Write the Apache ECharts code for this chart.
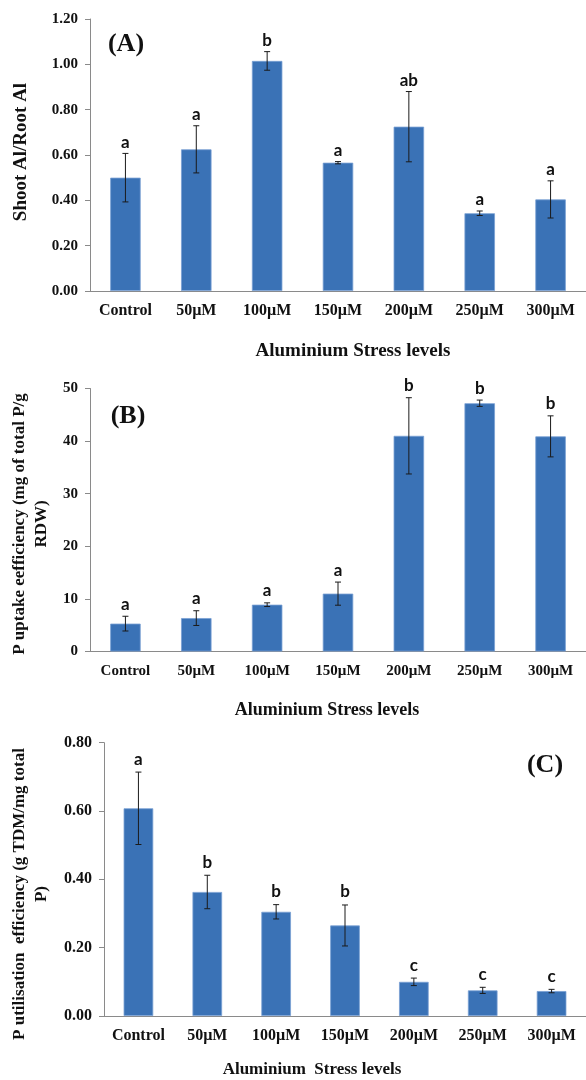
<!DOCTYPE html>
<html>
<head>
<meta charset="utf-8">
<script src="https://cdn.jsdelivr.net/npm/echarts@6/dist/echarts.min.js"></script>
<style>
  html, body { margin: 0; padding: 0; background: #ffffff; }
  #chart { width: 586px; height: 1080px; }
</style>
</head>
<body>
<div id="chart"></div>
<script>
// Aluminium stress treatments (x categories shared by all three panels)
const categories = ['Control', '50µM', '100µM', '150µM', '200µM', '250µM', '300µM'];

// (A) Shoot Al / Root Al ratio, mean ± SE, with significance groups
const shootRootAl = [0.50, 0.625, 1.015, 0.566, 0.725, 0.343, 0.404];
const shootRootAlErr = [0.107, 0.104, 0.041, 0.005, 0.155, 0.010, 0.082];
const shootRootAlGroups = ['a', 'a', 'b', 'a', 'ab', 'a', 'a'];

// (B) P uptake efficiency (mg of total P / g RDW)
const pUptake = [5.3, 6.35, 8.9, 11.0, 41.0, 47.2, 40.9];
const pUptakeErr = [1.4, 1.4, 0.35, 2.2, 7.25, 0.6, 3.9];
const pUptakeGroups = ['a', 'a', 'a', 'a', 'b', 'b', 'b'];

// (C) P utilisation efficiency (g TDM / mg total P)
const pUtil = [0.608, 0.363, 0.305, 0.265, 0.100, 0.075, 0.073];
const pUtilErr = [0.106, 0.049, 0.021, 0.060, 0.011, 0.009, 0.005];
const pUtilGroups = ['a', 'b', 'b', 'b', 'c', 'c', 'c'];

const SERIF = '"Liberation Serif", "Times New Roman", serif';
const SANS = 'Lato, "Open Sans", sans-serif';
const AXIS_GREY = '#8a8a8a';
const BAR_BLUE = '#3a72b6';

const chart = echarts.init(document.getElementById('chart'), null, { renderer: 'canvas' });

function xAxisFor(gridIndex, fontSize) {
  return {
    type: 'category',
    gridIndex: gridIndex,
    data: categories,
    axisLine: { lineStyle: { color: AXIS_GREY, width: 1 } },
    axisTick: { show: false },
    axisLabel: {
      interval: 0,
      hideOverlap: false,
      margin: 12,
      color: '#111',
      fontFamily: SERIF,
      fontWeight: 'bold',
      fontSize: fontSize
    }
  };
}

function yAxisFor(gridIndex, max, interval, digits, fontSize) {
  return {
    type: 'value',
    gridIndex: gridIndex,
    min: 0,
    max: max,
    interval: interval,
    axisLine: { show: true, lineStyle: { color: AXIS_GREY, width: 1 } },
    axisTick: { show: true, length: 5, lineStyle: { color: AXIS_GREY } },
    splitLine: { show: false },
    axisLabel: {
      margin: 12,
      color: '#111',
      fontFamily: SERIF,
      fontWeight: 'bold',
      fontSize: fontSize,
      formatter: function (v) { return v.toFixed(digits); }
    }
  };
}

function barSeries(axisIndex, values) {
  return {
    type: 'bar',
    xAxisIndex: axisIndex,
    yAxisIndex: axisIndex,
    data: values,
    barWidth: '43%',
    itemStyle: { color: BAR_BLUE, borderColor: '#79a0d3', borderWidth: 0.8 },
    silent: true
  };
}

// Error bars with caps, plus the significance letter above each bar
function errorSeries(axisIndex, values, errs, groups, lift) {
  return {
    type: 'custom',
    xAxisIndex: axisIndex,
    yAxisIndex: axisIndex,
    data: values.map(function (v, i) { return [i, v - errs[i], v + errs[i]]; }),
    encode: { x: 0, y: [1, 2] },
    z: 5,
    silent: true,
    renderItem: function (params, api) {
      const i = api.value(0);
      const lo = api.coord([i, api.value(1)]);
      const hi = api.coord([i, api.value(2)]);
      const cap = 3;
      const stroke = { stroke: '#1a1a1a', lineWidth: 1 };
      return {
        type: 'group',
        children: [
          { type: 'line', shape: { x1: lo[0], y1: lo[1], x2: hi[0], y2: hi[1] }, style: stroke },
          { type: 'line', shape: { x1: hi[0] - cap, y1: hi[1], x2: hi[0] + cap, y2: hi[1] }, style: stroke },
          { type: 'line', shape: { x1: lo[0] - cap, y1: lo[1], x2: lo[0] + cap, y2: lo[1] }, style: stroke },
          {
            type: 'text',
            x: hi[0],
            y: hi[1] - lift,
            style: {
              text: groups[params.dataIndex],
              font: 'bold 17px ' + SANS,
              fill: '#111',
              textAlign: 'center',
              textVerticalAlign: 'middle'
            }
          }
        ]
      };
    }
  };
}

function label(text, x, y, size, rotate) {
  return {
    type: 'text',
    x: x,
    y: y,
    rotation: rotate ? Math.PI / 2 : 0,
    silent: true,
    style: {
      text: text,
      font: 'bold ' + size + 'px ' + SERIF,
      fill: '#111',
      textAlign: 'center',
      textVerticalAlign: 'middle',
      lineHeight: 22
    }
  };
}

const option = {
  animation: false,
  backgroundColor: '#ffffff',
  grid: [
    { left: 90, top: 19, width: 502, height: 272 },
    { left: 90, top: 388.5, width: 502, height: 263 },
    { left: 104, top: 742.7, width: 490, height: 273.3 }
  ],
  xAxis: [xAxisFor(0, 16), xAxisFor(1, 15), xAxisFor(2, 16)],
  yAxis: [
    yAxisFor(0, 1.2, 0.2, 2, 15),
    yAxisFor(1, 50, 10, 0, 15),
    yAxisFor(2, 0.8, 0.2, 2, 16)
  ],
  series: [
    barSeries(0, shootRootAl),
    errorSeries(0, shootRootAl, shootRootAlErr, shootRootAlGroups, 11),
    barSeries(1, pUptake),
    errorSeries(1, pUptake, pUptakeErr, pUptakeGroups, 12),
    barSeries(2, pUtil),
    errorSeries(2, pUtil, pUtilErr, pUtilGroups, 13)
  ],
  graphic: [
    // panel tags
    label('(A)', 126, 44, 26, false),
    label('(B)', 128, 416, 26, false),
    label('(C)', 545, 765, 26, false),
    // axis titles
    label('Shoot Al/Root Al', 21, 152, 19, true),
    label('Aluminium Stress levels', 353, 351, 19, false),
    label('P uptake eefficiency (mg of total P/g\nRDW)', 31, 524, 17, true),
    label('Aluminium Stress levels', 327, 710, 18, false),
    label('P utilisation  efficiency (g TDM/mg total\nP)', 31, 894, 17, true),
    label('Aluminium  Stress levels', 312, 1070, 17, false)
  ]
};

chart.setOption(option);
</script>
</body>
</html>
